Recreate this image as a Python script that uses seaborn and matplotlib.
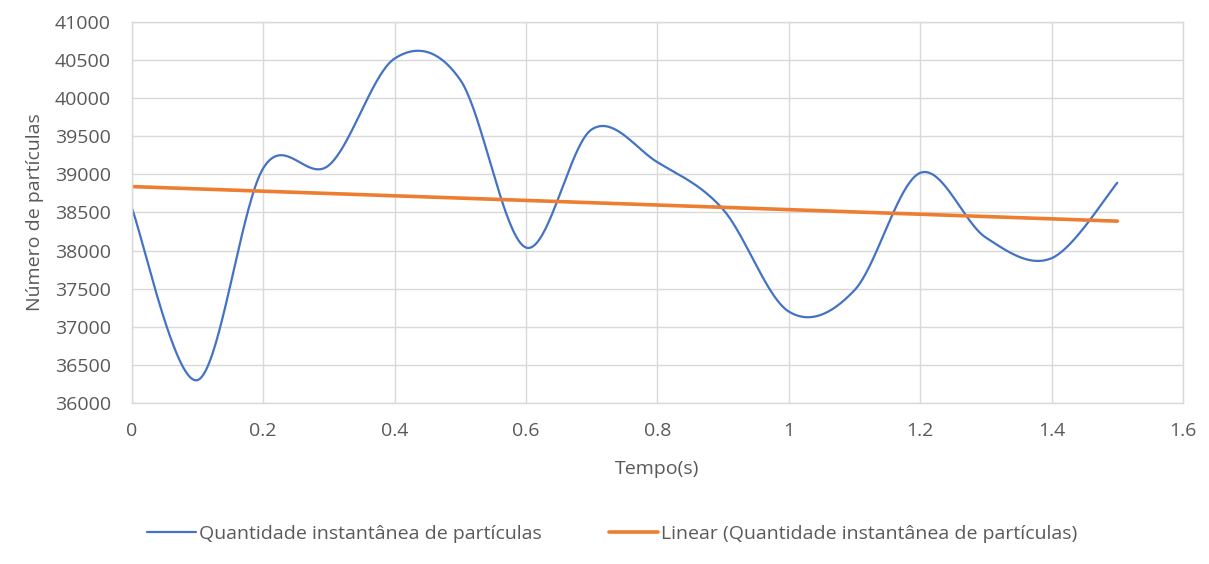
import numpy as np
import pandas as pd
import matplotlib
matplotlib.use("Agg")
import matplotlib.pyplot as plt
import seaborn as sns

# Data
tempo = [0.0, 0.1, 0.2, 0.3, 0.4, 0.5, 0.6, 0.7, 0.8, 0.9, 1.0, 1.1, 1.2, 1.3, 1.4, 1.5]
particulas = [38560, 36300, 39080, 39120, 40520, 40240, 38040, 39590, 39160, 38540,
              37200, 37480, 39020, 38170, 37900, 38890]
x_ticks = [0, 0.2, 0.4, 0.6, 0.8, 1.0, 1.2, 1.4, 1.6]
x_tick_labels = ["0", "0.2", "0.4", "0.6", "0.8", "1", "1.2", "1.4", "1.6"]
y_ticks = [36000, 36500, 37000, 37500, 38000, 38500, 39000, 39500, 40000, 40500, 41000]

serie = "Quantidade instantânea de partículas"
tendencia = "Linear (Quantidade instantânea de partículas)"


def smooth(xs, ys, n=40):
    # Catmull-Rom style rendering (like Excel's "smoothed line")
    xs = np.asarray(xs, float)
    ys = np.asarray(ys, float)
    P = np.column_stack([xs, ys])
    P = np.vstack([P[0], P, P[-1]])
    out = []
    for i in range(1, len(P) - 2):
        p0, p1, p2, p3 = P[i - 1], P[i], P[i + 1], P[i + 2]
        c1 = p1 + (p2 - p0) / 6.0
        c2 = p2 - (p3 - p1) / 6.0
        t = np.linspace(0, 1, n, endpoint=(i == len(P) - 3))[:, None]
        seg = ((1 - t) ** 3) * p1 + 3 * ((1 - t) ** 2) * t * c1 + 3 * (1 - t) * t ** 2 * c2 + t ** 3 * p2
        out.append(seg)
    out = np.vstack(out)
    return out[:, 0], out[:, 1]


sx, sy = smooth(tempo, particulas)
coef = np.polyfit(tempo, particulas, 1)
tx = np.array([tempo[0], tempo[-1]])
ty = np.polyval(coef, tx)

df_s = pd.DataFrame({"x": sx, "y": sy})
df_t = pd.DataFrame({"x": tx, "y": ty})

sns.set_theme(style="white")
plt.rcParams["font.family"] = ["Open Sans", "DejaVu Sans"]
txt = "#595959"
fs = 14

fig = plt.figure(figsize=(12.09, 5.64), dpi=100)
ax = fig.add_axes([0.109, 0.2855, 0.8695, 0.6755])

sns.lineplot(data=df_s, x="x", y="y", ax=ax, color="#4472C4", linewidth=1.6,
             label=serie, sort=False)
sns.lineplot(data=df_t, x="x", y="y", ax=ax, color="#ED7D31", linewidth=2.6,
             label=tendencia)

ax.set_xlim(0, 1.6)
ax.set_ylim(36000, 41000)
ax.set_xticks(x_ticks)
ax.set_xticklabels(x_tick_labels)
ax.set_yticks(y_ticks)
ax.tick_params(axis="both", length=0, labelsize=fs, colors=txt)
ax.tick_params(axis="y", pad=15)
ax.tick_params(axis="x", pad=14)
ax.grid(True, color="#d9d9d9", linewidth=1)
for s in ax.spines.values():
    s.set_color("#d9d9d9")
    s.set_linewidth(1)

ax.set_xlabel("Tempo(s)", fontsize=fs, color=txt, labelpad=14)
ax.set_ylabel("Número de partículas", fontsize=fs, color=txt, labelpad=8)

ax.legend(loc="upper center", bbox_to_anchor=(0.457, -0.274), ncol=2, frameon=False,
          fontsize=fs, labelcolor=txt, handlelength=2.5, handletextpad=0.15,
          columnspacing=3.5)

fig.savefig("out.png", dpi=100)
